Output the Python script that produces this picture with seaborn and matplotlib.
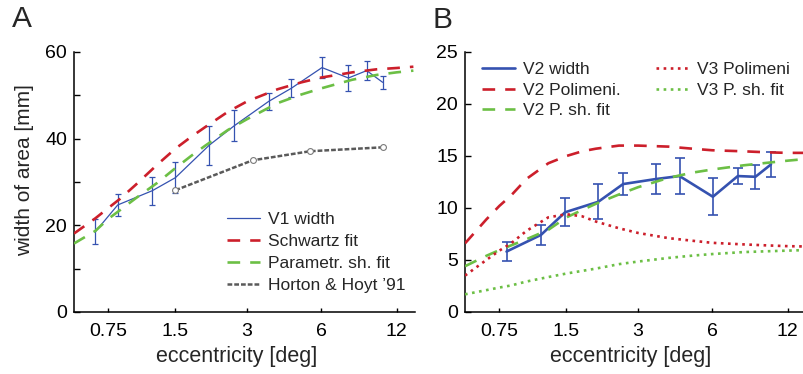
import numpy as np
import matplotlib
matplotlib.use("Agg")
import matplotlib.pyplot as plt
from matplotlib.lines import Line2D
from matplotlib.ticker import FixedLocator, NullLocator
import seaborn as sns

# ---- measured widths (panel A: V1) ----
v1_ecc = [0.65, 0.83, 1.19, 1.5, 2.09, 2.66, 3.68, 4.54, 6.05, 7.72, 9.13, 10.57]
v1_width = [18.5, 24.7, 28.0, 31.0, 38.5, 43.0, 48.6, 51.6, 56.4, 54.0, 55.7, 53.0]
v1_err = [2.9, 2.6, 3.2, 3.6, 4.5, 3.5, 2.0, 2.1, 2.4, 2.9, 2.2, 1.5]

# Horton & Hoyt (1991) values
hh_ecc = [1.5, 3.16, 5.42, 10.57]
hh_width = [28.1, 35.0, 37.1, 38.0]

# ---- measured widths (panel B: V2) ----
v2_ecc = [0.81, 1.16, 1.48, 2.05, 2.60, 3.54, 4.43, 6.04, 7.60, 8.94, 10.31]
v2_width = [5.81, 7.41, 9.59, 10.6, 12.3, 12.78, 13.07, 11.08, 13.07, 13.0, 14.19]
v2_err = [0.93, 1.0, 1.36, 1.7, 1.05, 1.47, 1.7, 1.77, 0.8, 1.17, 1.17]

# ---- model curves, sampled on a common eccentricity grid ----
fit_ecc = [0.51, 0.65, 0.75, 0.85, 1.0, 1.25, 1.5, 1.75, 2.0, 2.5, 3.0,
           4.0, 5.0, 6.0, 8.0, 10.0, 12.0, 14.0]
schwartz_fit = [18.1, 21.6, 24.0, 26.1, 29.3, 34.0, 37.7, 40.4, 42.6, 46.2, 48.6,
                51.4, 53.0, 54.1, 55.3, 56.0, 56.3, 56.6]
v1_psh_fit = [15.8, 18.7, 21.5, 23.5, 26.2, 29.8, 33.2, 36.0, 38.3, 42.0, 44.5,
              48.2, 50.2, 51.6, 53.6, 54.7, 55.3, 55.7]
v2_polimeni = [6.6, 8.9, 10.2, 11.2, 12.8, 14.3, 15.0, 15.45, 15.7, 16.0, 16.0,
               15.9, 15.7, 15.55, 15.45, 15.35, 15.3, 15.3]
v2_psh_fit = [4.4, 5.4, 5.95, 6.4, 7.0, 7.9, 9.1, 9.8, 10.4, 11.3, 12.0,
              12.9, 13.4, 13.7, 14.1, 14.35, 14.55, 14.7]
v3_polimeni = [3.5, 5.0, 5.9, 6.6, 7.8, 9.1, 9.4, 9.2, 8.7, 8.05, 7.6,
               7.1, 6.85, 6.65, 6.5, 6.4, 6.33, 6.3]
v3_psh_fit = [1.7, 2.1, 2.35, 2.55, 2.93, 3.36, 3.7, 3.95, 4.17, 4.6, 4.85,
              5.2, 5.42, 5.57, 5.76, 5.84, 5.9, 5.95]

ecc_ticks = [0.75, 1.5, 3, 6, 12]
ecc_ticklabels = ["0.75", "1.5", "3", "6", "12"]

BLUE = "#3552b0"
RED = "#cc1f2b"
GREEN = "#6cbf45"
GRAY = "#5a5a5a"

sns.set_theme(style="ticks")
plt.rcParams["font.family"] = ["Liberation Sans", "DejaVu Sans"]
plt.rcParams["axes.linewidth"] = 1.1

DASH = (0, (4.8, 3.8))
DOT = (0, (1.0, 1.7))
HHDASH = (0, (1.9, 0.8))


def fwd(x):
    return np.log(np.maximum(np.asarray(x, dtype=float) + 0.15, 1e-6))


def inv(y):
    return np.exp(y) - 0.15


fig = plt.figure(figsize=(8.04, 3.74), dpi=100)
axA = fig.add_axes([0.0920, 0.1658, 0.4241, 0.6952])
axB = fig.add_axes([0.5784, 0.1658, 0.4241, 0.6952])

# ---------------- panel A ----------------
sns.lineplot(x=v1_ecc, y=v1_width, ax=axA, color=BLUE, lw=0.9, zorder=3)
axA.errorbar(v1_ecc, v1_width, yerr=v1_err, fmt="none", ecolor=BLUE,
             elinewidth=0.9, capsize=2.3, capthick=0.9, zorder=3)
sns.lineplot(x=fit_ecc, y=schwartz_fit, ax=axA, color=RED, lw=1.9,
             linestyle=DASH, zorder=4)
sns.lineplot(x=fit_ecc, y=v1_psh_fit, ax=axA, color=GREEN, lw=1.9,
             linestyle=DASH, zorder=4)
sns.lineplot(x=hh_ecc, y=hh_width, ax=axA, color=GRAY, lw=1.8,
             linestyle=HHDASH, marker="o", markersize=4.2, markerfacecolor="white",
             markeredgecolor="#7a7a7a", markeredgewidth=0.8, zorder=4)

axA.set_ylim(0, 60)
axA.yaxis.set_major_locator(FixedLocator([0, 20, 40, 60]))
axA.yaxis.set_minor_locator(FixedLocator([10, 30, 50]))
axA.set_ylabel("width of area [mm]", fontsize=15)

handlesA = [
    Line2D([], [], color=BLUE, lw=0.9),
    Line2D([], [], color=RED, lw=1.9, linestyle=DASH),
    Line2D([], [], color=GREEN, lw=1.9, linestyle=DASH),
    Line2D([], [], color=GRAY, lw=1.8, linestyle=HHDASH),
]
labelsA = ["V1 width", "Schwartz fit", "Parametr. sh. fit", "Horton & Hoyt \u201991"]
axA.legend(handlesA, labelsA, loc="upper left", bbox_to_anchor=(0.4487, 0.386),
           frameon=False, fontsize=12.5, borderpad=0, borderaxespad=0,
           handlelength=1.9, handletextpad=0.47, labelspacing=0.4)

# ---------------- panel B ----------------
sns.lineplot(x=v2_ecc, y=v2_width, ax=axB, color=BLUE, lw=1.9, zorder=3)
axB.errorbar(v2_ecc, v2_width, yerr=v2_err, fmt="none", ecolor=BLUE,
             elinewidth=1.2, capsize=3.3, capthick=1.2, zorder=3)
sns.lineplot(x=fit_ecc, y=v2_polimeni, ax=axB, color=RED, lw=1.9,
             linestyle=DASH, zorder=4)
sns.lineplot(x=fit_ecc, y=v2_psh_fit, ax=axB, color=GREEN, lw=1.9,
             linestyle=DASH, zorder=4)
sns.lineplot(x=fit_ecc, y=v3_polimeni, ax=axB, color=RED, lw=1.9,
             linestyle=DOT, zorder=4)
sns.lineplot(x=fit_ecc, y=v3_psh_fit, ax=axB, color=GREEN, lw=1.9,
             linestyle=DOT, zorder=4)

axB.set_ylim(0, 25)
axB.yaxis.set_major_locator(FixedLocator([0, 5, 10, 15, 20, 25]))
axB.yaxis.set_minor_locator(NullLocator())

handlesB1 = [
    Line2D([], [], color=BLUE, lw=1.9),
    Line2D([], [], color=RED, lw=1.9, linestyle=DASH),
    Line2D([], [], color=GREEN, lw=1.9, linestyle=DASH),
]
handlesB2 = [
    Line2D([], [], color=RED, lw=1.9, linestyle=DOT),
    Line2D([], [], color=GREEN, lw=1.9, linestyle=DOT),
]
legB1 = axB.legend(handlesB1, ["V2 width", "V2 Polimeni.", "V2 P. sh. fit"],
                   loc="upper left", bbox_to_anchor=(0.05, 0.961), frameon=False,
                   fontsize=12.5, borderpad=0, borderaxespad=0, handlelength=1.9,
                   handletextpad=0.47, labelspacing=0.3)
axB.add_artist(legB1)
axB.legend(handlesB2, ["V3 Polimeni", "V3 P. sh. fit"],
           loc="upper left", bbox_to_anchor=(0.559, 0.961), frameon=False,
           fontsize=12.5, borderpad=0, borderaxespad=0, handlelength=1.9,
           handletextpad=0.47, labelspacing=0.3)

# ---------------- shared axis styling ----------------
for ax in (axA, axB):
    ax.set_xscale("function", functions=(fwd, inv))
    ax.set_xlim(0.51, 14.2)
    ax.xaxis.set_major_locator(FixedLocator(ecc_ticks))
    ax.xaxis.set_minor_locator(NullLocator())
    ax.set_xticklabels(ecc_ticklabels)
    ax.set_xlabel("eccentricity [deg]", fontsize=15.5)
    sns.despine(ax=ax)
    ax.tick_params(axis="x", which="both", direction="in", length=3, width=1.0,
                   pad=8.0, labelsize=14, colors="black")
    ax.tick_params(axis="y", which="both", direction="in", length=4, width=1.0,
                   pad=5, labelsize=14, colors="black")
    ax.spines["left"].set_color("black")
    ax.spines["bottom"].set_color("black")
    ax.set_facecolor("white")

axA.xaxis.set_label_coords(0.478, -0.13)
axB.xaxis.set_label_coords(0.485, -0.13)
axA.yaxis.set_label_coords(-0.118, 0.544)

fig.text(12 / 804, 1 - 5 / 374, "A", fontsize=21.5, va="top", ha="left")
fig.text(433 / 804, 1 - 6 / 374, "B", fontsize=21.5, va="top", ha="left")

fig.savefig("out.png", dpi=100, facecolor="white")
